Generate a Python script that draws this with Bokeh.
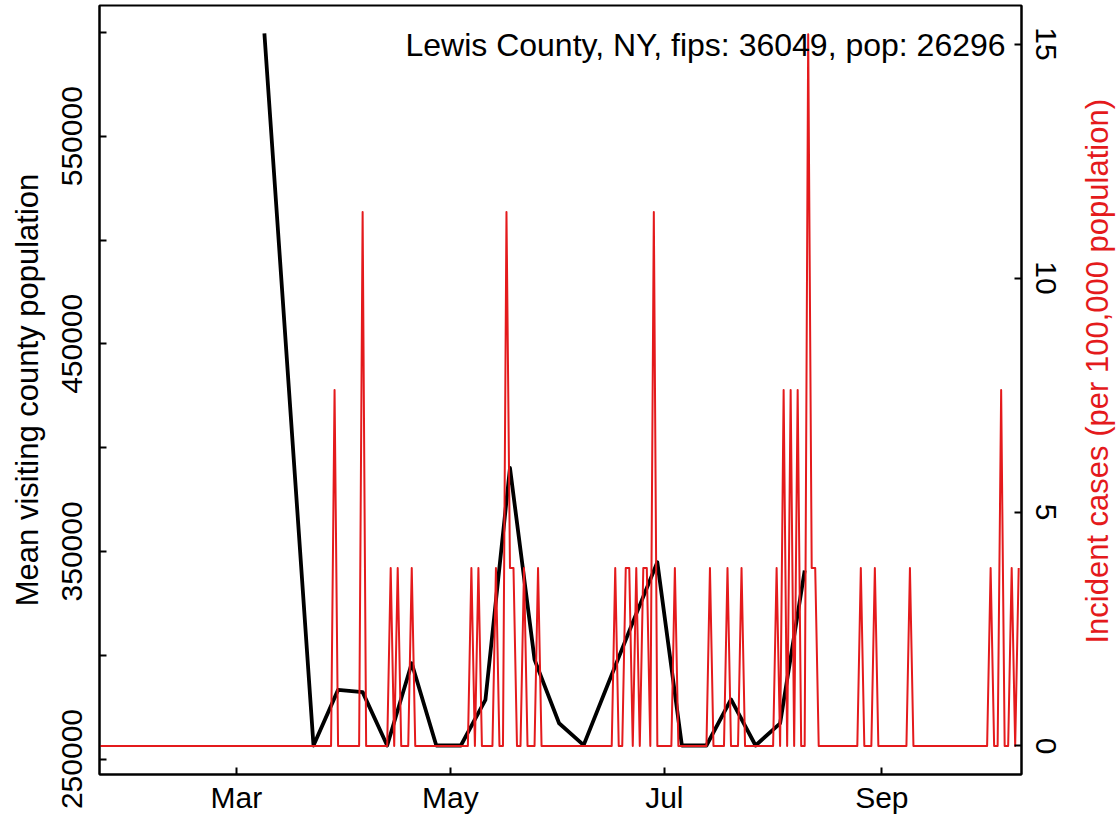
import math
import pandas as pd
from bokeh.plotting import figure
from bokeh.layouts import row
from bokeh.models import (Range1d, LinearAxis, FixedTicker, DatetimeTickFormatter,
                          BasicTickFormatter, Label, ColumnDataSource)
from bokeh.core.properties import value
from bokeh.embed import file_html
from bokeh.resources import INLINE

# ---------------- data ----------------
county_title = "Lewis County, NY, fips: 36049, pop: 26296"
left_label = "Mean visiting county population"
right_label = "Incident cases (per 100,000 population)"

month_ticks = ["2020-03-01", "2020-05-01", "2020-07-01", "2020-09-01"]
pop_ticks = [250000, 350000, 450000, 550000]
pop_minor_ticks = [300000, 400000, 500000, 600000]
case_ticks = [0, 5, 10, 15]

# weekly mean visiting county population (black line)
visit_dates = ["2020-03-09", "2020-03-23", "2020-03-30", "2020-04-06", "2020-04-13",
               "2020-04-20", "2020-04-27", "2020-05-04", "2020-05-11", "2020-05-18",
               "2020-05-25", "2020-06-01", "2020-06-08", "2020-06-15", "2020-06-22",
               "2020-06-29", "2020-07-06", "2020-07-13", "2020-07-20", "2020-07-27",
               "2020-08-03", "2020-08-10"]
visit_pop = [599500, 256500, 283300, 282200, 256500,
             296100, 256500, 256500, 278500, 390200,
             297900, 267200, 256700, 286400, 315800,
             344800, 256500, 256500, 278700, 256500,
             267200, 340800]

# daily incident cases per 100,000 (red line), starting 2020-01-22
case_start = "2020-01-22"
incidence = [
    0, 0, 0, 0, 0, 0, 0, 0, 0, 0,
    0, 0, 0, 0, 0, 0, 0, 0, 0, 0,
    0, 0, 0, 0, 0, 0, 0, 0, 0, 0,
    0, 0, 0, 0, 0, 0, 0, 0, 0, 0,
    0, 0, 0, 0, 0, 0, 0, 0, 0, 0,
    0, 0, 0, 0, 0, 0, 0, 0, 0, 0,
    0, 0, 0, 0, 0, 0, 0, 7.606, 0, 0,
    0, 0, 0, 0, 0, 11.409, 0, 0, 0, 0,
    0, 0, 0, 3.803, 0, 3.803, 0, 0, 0, 3.803,
    0, 0, 0, 0, 0, 0, 0, 0, 0, 0,
    0, 0, 0, 0, 0, 0, 3.803, 0, 3.803, 0,
    0, 0, 0, 3.803, 0, 0, 11.409, 3.803, 3.803, 0,
    0, 3.803, 0, 0, 0, 3.803, 0, 0, 0, 0,
    0, 0, 0, 0, 0, 0, 0, 0, 0, 0,
    0, 0, 0, 0, 0, 0, 0, 3.803, 0, 0,
    3.803, 3.803, 0, 3.803, 0, 3.803, 3.803, 0, 11.409, 0,
    0, 0, 0, 0, 3.803, 0, 0, 0, 0, 0,
    0, 0, 0, 0, 3.803, 0, 0, 0, 0, 3.803,
    0, 0, 0, 3.803, 0, 0, 0, 0, 0, 0,
    0, 0, 0, 3.803, 0, 7.606, 0, 7.606, 0, 7.606,
    0, 0, 15.211, 3.803, 3.803, 0, 0, 0, 0, 0,
    0, 0, 0, 0, 0, 0, 0, 3.803, 0, 0,
    0, 3.803, 0, 0, 0, 0, 0, 0, 0, 0,
    0, 3.803, 0, 0, 0, 0, 0, 0, 0, 0,
    0, 0, 0, 0, 0, 0, 0, 0, 0, 0,
    0, 0, 0, 0, 3.803, 0, 0, 7.606, 0, 0,
    3.803, 0, 3.803,
]

# ---------------- styling ----------------
RED = "#E41A1C"
FONT = "Liberation Sans"
FS = "30px"
LFS = "31px"

case_dates = pd.date_range(case_start, periods=len(incidence), freq="D")
x_start = pd.Timestamp(case_start)
x_end = x_start + pd.Timedelta(days=262.8)

p = figure(width=1070, height=822, x_axis_type="datetime",
           x_range=Range1d(x_start.to_pydatetime(), x_end.to_pydatetime()),
           y_range=Range1d(242534, 612961),
           output_backend="svg", toolbar_location=None,
           min_border_left=99, min_border_right=49,
           min_border_top=5, min_border_bottom=48)
p.extra_y_ranges = {"inc": Range1d(-0.609, 15.823)}

p.xgrid.visible = False
p.ygrid.visible = False
p.background_fill_color = "white"
p.border_fill_color = "white"
p.outline_line_color = "black"
p.outline_line_width = 2
p.outline_line_alpha = 1.0

# lines
black_src = ColumnDataSource(dict(date=pd.to_datetime(visit_dates), value=visit_pop))
red_src = ColumnDataSource(dict(date=case_dates, value=incidence))
p.line("date", "value", source=black_src, line_color="black", line_width=3.8,
       line_join="round")
p.line("date", "value", source=red_src, line_color=RED, line_width=2,
       line_join="round", y_range_name="inc")


def style_axis(ax):
    ax.axis_line_width = 2
    ax.major_tick_line_width = 2
    ax.minor_tick_line_width = 2
    ax.major_tick_in = 7
    ax.major_tick_out = 0
    ax.minor_tick_in = 7
    ax.minor_tick_out = 0
    ax.major_label_text_font = FONT
    ax.major_label_text_font_size = FS
    ax.major_label_text_color = "black"
    ax.axis_label_text_font = FONT
    ax.axis_label_text_font_size = LFS
    ax.axis_label_text_font_style = "normal"


# bottom axis
xa = p.xaxis[0]
style_axis(xa)
xa.ticker = FixedTicker(ticks=[pd.Timestamp(t).value / 1e6 for t in month_ticks],
                        minor_ticks=[])
xa.formatter = DatetimeTickFormatter(months="%b", days="%b", hours="%b",
                                     years="%b", hourmin="%b", minutes="%b")
xa.major_label_standoff = 6

# left axis
ya = p.yaxis[0]
style_axis(ya)
ya.ticker = FixedTicker(ticks=pop_ticks, minor_ticks=pop_minor_ticks)
ya.formatter = BasicTickFormatter(use_scientific=False)
ya.major_label_orientation = "vertical"
ya.major_label_standoff = 17
ya.axis_label = left_label
ya.axis_label_standoff = 15
ya.axis_label_text_color = "black"

# right axis
ra = LinearAxis(y_range_name="inc", ticker=FixedTicker(ticks=case_ticks, minor_ticks=[]))
style_axis(ra)
ra.major_label_orientation = "vertical"
ra.major_label_standoff = 14
p.add_layout(ra, "right")

# county title text
title_x = (x_start + pd.Timedelta(days=258.26)).value / 1e6
p.add_layout(Label(x=title_x, y=593700, text=county_title, text_align="right",
                   text_baseline="middle", text_font=FONT, text_font_size="32px",
                   text_color="black"))

# narrow strip holding the right axis title (reads bottom to top)
p2 = figure(width=49, height=822, x_axis_type=None, y_axis_type=None,
            x_range=Range1d(0, 49), y_range=Range1d(0, 822),
            output_backend="svg", toolbar_location=None,
            min_border_left=0, min_border_right=0, min_border_top=0, min_border_bottom=0)
p2.outline_line_color = None
p2.background_fill_color = "white"
p2.border_fill_color = "white"
p2.xgrid.visible = False
p2.ygrid.visible = False
p2.text(x=[27], y=[431], text=[right_label], angle=math.pi / 2,
        text_align="center", text_baseline="middle", text_font=value(FONT),
        text_font_size=value(LFS), text_color=RED)

layout = row(p, p2)
open("out.html", "w").write(file_html(layout, INLINE))
